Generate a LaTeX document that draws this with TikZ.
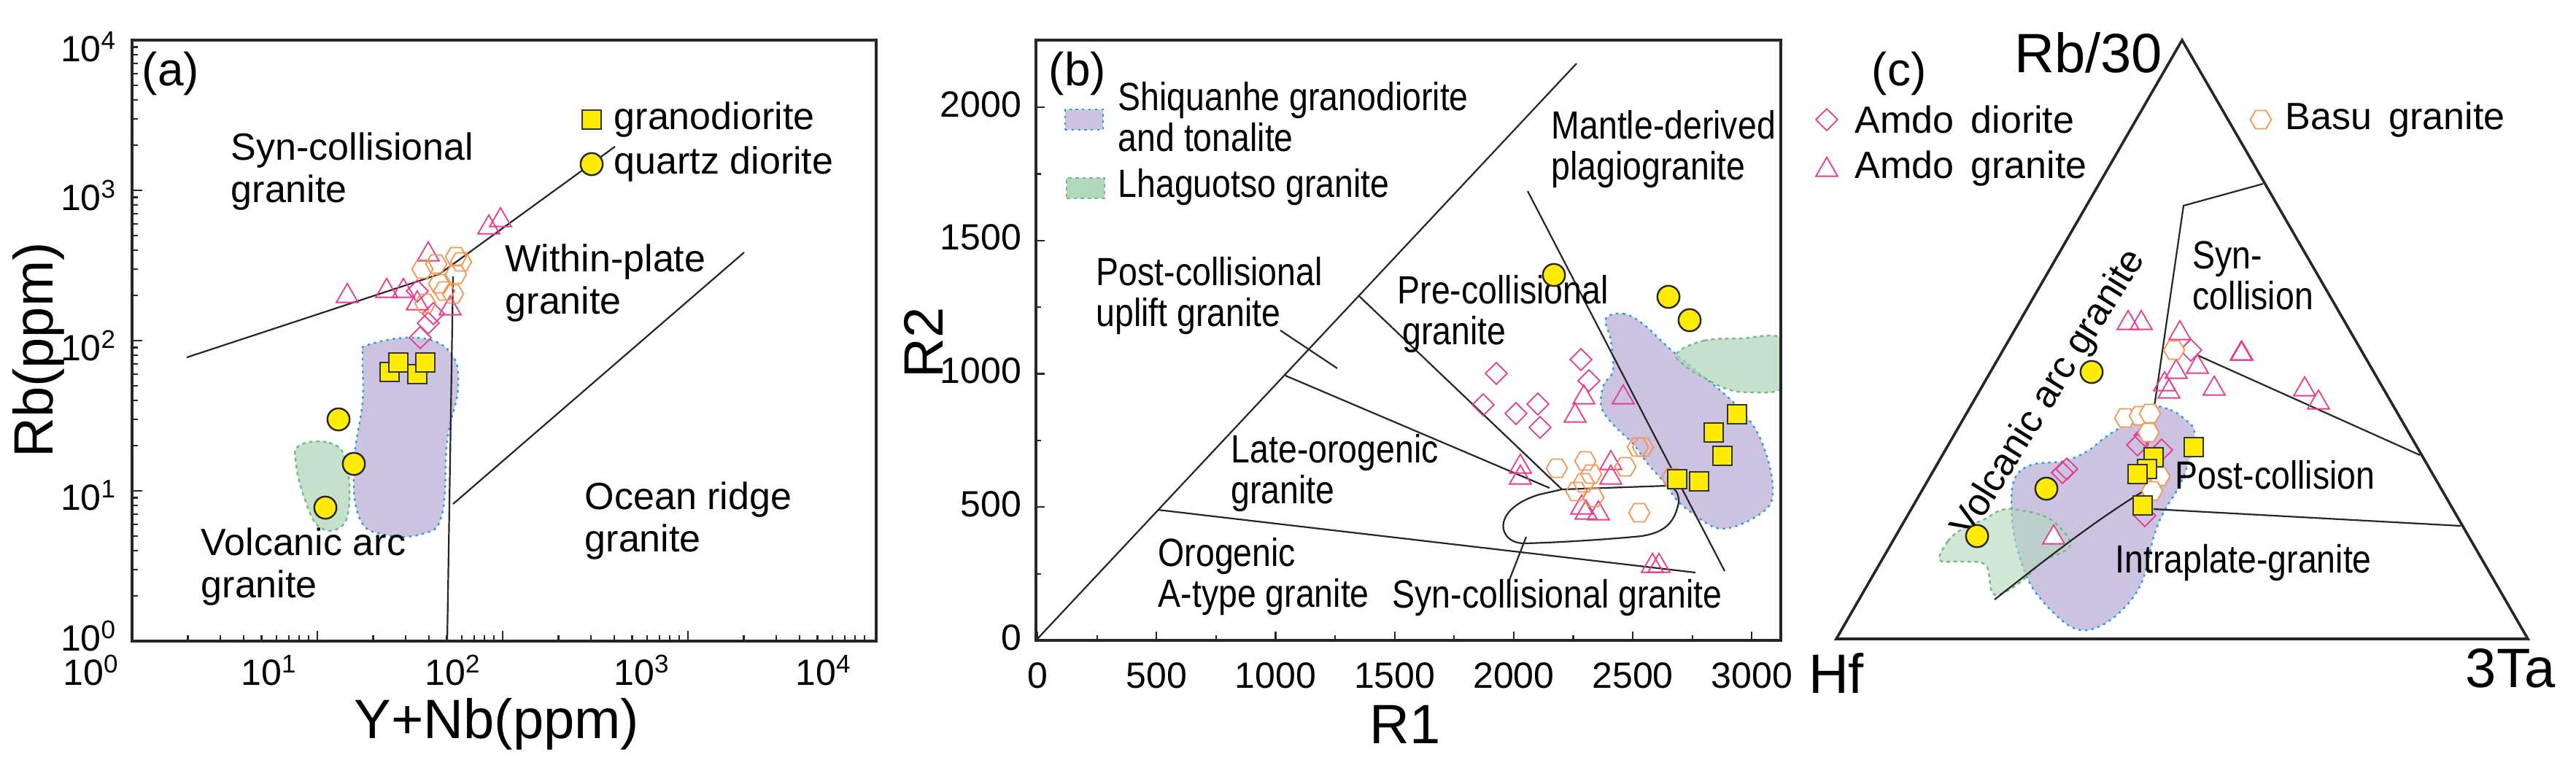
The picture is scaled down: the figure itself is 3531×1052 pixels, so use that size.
\documentclass[tikz,border=0pt]{standalone}
\usepackage{fontspec}
\setmainfont{Liberation Sans}
\usetikzlibrary{shapes.geometric}
\definecolor{pur}{RGB}{203,195,224}
\definecolor{grn}{RGB}{178,216,188}
\definecolor{blu}{RGB}{30,160,225}
\definecolor{gbd}{RGB}{120,185,140}
\definecolor{pink}{RGB}{230,60,145}
\definecolor{orng}{RGB}{243,150,80}
\definecolor{yel}{RGB}{255,236,0}
\tikzset{
 lbl/.style={font=\fontsize{13}{14.5}\selectfont, inner sep=0pt, anchor=west},
 nlbl/.style={font=\fontsize{13.5}{14}\selectfont, inner sep=0pt, anchor=west, xscale=0.86},
 tick/.style={font=\fontsize{12.5}{13}\selectfont, inner sep=1pt},
 axl/.style={font=\fontsize{19}{20}\selectfont, inner sep=0pt},
 bnd/.style={line width=0.55pt, black!85},
 frm/.style={line width=0.9pt, black!85},
 pfield/.style={fill=pur, draw=blu, line width=0.6pt, dash pattern=on 0.8pt off 1.4pt},
 gfield/.style={fill=grn, fill opacity=0.75, draw=gbd, line width=0.6pt, dash pattern=on 1.2pt off 1.2pt},
 sqm/.style={rectangle, draw=black!80, line width=0.6pt, fill=yel, minimum size=6.6pt, inner sep=0pt},
 cim/.style={circle, draw=black!85, line width=0.6pt, fill=yel, minimum size=7.6pt, inner sep=0pt},
 trm/.style={regular polygon, regular polygon sides=3, draw=pink, line width=0.45pt, minimum size=8.6pt, inner sep=0pt},
 dim/.style={diamond, draw=pink, line width=0.45pt, minimum size=7.6pt, inner sep=0pt, aspect=1},
 hxm/.style={regular polygon, regular polygon sides=6, draw=orng, line width=0.45pt, minimum size=7.2pt, inner sep=0pt},
}
\begin{document}
\begin{tikzpicture}[x=0.25pt,y=-0.25pt]
\useasboundingbox[fill=white] (0,0) rectangle (3531,1052);
% ================= Panel (a) =================
\draw[pfield] plot[smooth cycle, tension=0.7] coordinates {(504,473) (572,463) (617,483) (628,530) (613,604) (606,705) (579,732) (527,733) (493,711) (485,638) (497,550) (497,490)};
\draw[gfield] plot[smooth cycle, tension=0.7] coordinates {(410,611) (451,607) (474,631) (478,698) (463,725) (436,721) (418,685) (406,638)};
\coordinate (a1) at (256,490); \coordinate (a2) at (602,376); \coordinate (a3) at (843,201);
\coordinate (a4) at (613,879); \coordinate (a5) at (621,379);
\coordinate (a6) at (621,691); \coordinate (a7) at (1020,346);
\draw[bnd] (a1) -- (a2) -- (a3);
\draw[bnd] (a4) -- (a5);
\draw[bnd] (a6) -- (a7);
\draw[frm] (181,55) rectangle (1201,879);
\foreach \d in {0,1,2,3} {
  \draw[bnd] ({181+254*\d},879) -- ({181+254*\d},865);
  \draw[bnd] (181,{879-206*\d}) -- (195,{879-206*\d});
  \foreach \m in {2,...,9} {
    \draw[bnd] ({181+254*(\d+log10(\m))},879) -- ({181+254*(\d+log10(\m))},871);
    \draw[bnd] (181,{879-206*(\d+log10(\m))}) -- (189,{879-206*(\d+log10(\m))});
  }
}
\node[tick] (ax0) at (125,919) {10\textsuperscript{0}};
\node[tick] (ax1) at (369,919) {10\textsuperscript{1}};
\node[tick] (ax2) at (621,919) {10\textsuperscript{2}};
\node[tick] (ax3) at (880,919) {10\textsuperscript{3}};
\node[tick] (ax4) at (1129,919) {10\textsuperscript{4}};
\node[tick,anchor=east] (ay4) at (165,64) {10\textsuperscript{4}};
\node[tick,anchor=east] (ay3) at (165,268) {10\textsuperscript{3}};
\node[tick,anchor=east] (ay2) at (165,474) {10\textsuperscript{2}};
\node[tick,anchor=east] (ay1) at (165,679) {10\textsuperscript{1}};
\node[tick,anchor=east] (ay0) at (165,872) {10\textsuperscript{0}};
\node[axl,rotate=90] (ayl) at (53,480) {Rb(ppm)};
\node[axl] (axl) at (681,993) {Y+Nb(ppm)};
\node[lbl,font=\fontsize{16}{17}\selectfont] (pa) at (194,101) {(a)};
\node[sqm] (lsq) at (811,164) {};
\node[lbl] (lsqt) at (841,164) {granodiorite};
\node[cim] (lci) at (811,225) {};
\node[lbl] (lcit) at (841,225) {quartz diorite};
\node[lbl,align=left] (la1) at (316,235) {Syn-collisional\\granite};
\node[lbl,align=left] (la2) at (692,388) {Within-plate\\granite};
\node[lbl,align=left] (la3) at (801,714) {Ocean ridge\\granite};
\node[lbl,align=left] (la4) at (275,777) {Volcanic arc\\granite};
\foreach \x/\y [count=\i] in {476/406,530/399,553/399,587/349,670/312,686/302,572/416,617/423} \node[trm] (atr\i) at (\x,\y) {};
\foreach \x/\y [count=\i] in {576/463,587/443,572/399,594/430} \node[dim] (adi\i) at (\x,\y) {};
\foreach \x/\y [count=\i] in {579/369,598/362,625/352,632/359,625/376,609/399,621/403,583/416,602/389} \node[hxm] (ahx\i) at (\x,\y) {};
\foreach \x/\y [count=\i] in {534/510,546/497,572/513,583/497} \node[sqm] (asq\i) at (\x,\y) {};
\foreach \x/\y [count=\i] in {464/575,485/636,446/696} \node[cim] (aci\i) at (\x,\y) {};
% ================= Panel (b) =================
\draw[pfield] plot[smooth cycle, tension=0.6] coordinates {(2201,437) (2225,430) (2252,444) (2292,481) (2353,531) (2379,555) (2406,588) (2423,629) (2430,669) (2423,696) (2386,719) (2353,724) (2319,703) (2299,686) (2279,659) (2258,635) (2238,608) (2211,582) (2195,558) (2198,528) (2211,508) (2208,467)};
\begin{scope}
\clip (1420,55) rectangle (2441,879);
\draw[gfield] plot[smooth cycle, tension=0.7] coordinates {(2299,484) (2336,467) (2386,464) (2443,463) (2470,500) (2442,533) (2403,538) (2369,534) (2336,518) (2309,501)};
\end{scope}
\coordinate (b0) at (1420,878); \coordinate (b1) at (2161,87);
\coordinate (b2) at (1587,699); \coordinate (b3) at (2324,785);
\coordinate (b4) at (1762,515); \coordinate (b5) at (2124,669);
\coordinate (b6) at (1863,406); \coordinate (b7) at (2141,671);
\coordinate (b8) at (2094,262); \coordinate (b9) at (2364,783);
\coordinate (b10) at (1755,453); \coordinate (b11) at (1833,505);
\coordinate (b12) at (2092,736); \coordinate (b13) at (2067,800);
\draw[bnd] (b0) -- (b1);
\draw[bnd] (b2) -- (b3);
\draw[bnd] (b4) -- (b5);
\draw[bnd] (b6) -- (b7);
\draw[bnd] (b8) -- (b9);
\draw[bnd] (b10) -- (b11);
\draw[bnd] (b12) -- (b13);
\draw[bnd] (b7) -- (2285,666) .. controls (2300,668) and (2304,684) .. (2299,697) .. controls (2292,722) and (2275,731) .. (2250,735) .. controls (2200,740) and (2130,744) .. (2090,745) .. controls (2066,745) and (2058,728) .. (2061,716) .. controls (2066,696) and (2090,684) .. (2110,678) -- cycle;
\draw[frm] (1420,55) rectangle (2441,878);
\foreach \v in {0,250,...,3000} {
  \draw[bnd] ({1422+0.3264*\v},878) -- ({1422+0.3264*\v},871);
}
\foreach \v in {0,500,...,3000} {
  \draw[bnd] ({1422+0.3264*\v},878) -- ({1422+0.3264*\v},866);
}
\foreach \v in {0,250,...,2000} {
  \draw[bnd] (1420,{878-0.3655*\v}) -- (1427,{878-0.3655*\v});
}
\foreach \v in {0,500,...,2000} {
  \draw[bnd] (1420,{878-0.3655*\v}) -- (1432,{878-0.3655*\v});
}
\foreach \v [count=\i] in {0,500,1000,1500,2000,2500,3000} \node[tick] (bx\i) at ({1422+0.3264*\v},926) {\v};
\foreach \v [count=\i] in {0,500,1000,1500,2000} \node[tick,anchor=east] (by\i) at (1405,{874-0.3655*\v}) {\v};
\node[axl] (bxl) at (1926,993) {R1};
\node[axl,rotate=90] (byl) at (1266,470) {R2};
\node[lbl,font=\fontsize{16}{17}\selectfont] (pb) at (1437,101) {(b)};
\node[pfield, rectangle, minimum width=13pt, minimum height=7pt, inner sep=0pt] (lgp) at (1486,164) {};
\node[gfield, fill opacity=1, rectangle, minimum width=13pt, minimum height=7pt, inner sep=0pt] (lgg) at (1488,258) {};
\node[nlbl,align=left] (lgpt) at (1532,160) {Shiquanhe granodiorite\\and tonalite};
\node[nlbl] (lggt) at (1532,257) {Lhaguotso granite};
\node[nlbl,align=left] (lb1) at (1502,406) {Post-collisional\\uplift granite};
\node[nlbl,align=left] (lb2) at (1915,431) {Pre-collisional\\\hspace*{2pt}granite};
\node[nlbl,align=left] (lb3) at (2126,205) {Mantle-derived\\plagiogranite};
\node[nlbl,align=left] (lb4) at (1687,649) {Late-orogenic\\granite};
\node[nlbl,align=left] (lb5) at (1587,791) {Orogenic\\A-type granite};
\node[nlbl] (lb6) at (1908,820) {Syn-collisional granite};
\foreach \x/\y [count=\i] in {2051/512,2033/555,2078/567,2108/554,2111/586,2167/493,2178/522} \node[dim] (bdi\i) at (\x,\y) {};
\foreach \x/\y [count=\i] in {2225/545,2171/545,2159/570,2084/640,2084/655,2208/635,2208/655,2174/703,2191/704,2168/696,2265/776,2274/776} \node[trm] (btr\i) at (\x,\y) {};
\foreach \x/\y [count=\i] in {2134/642,2173/632,2181/650,2171/662,2161/674,2184/682,2228/640,2245/613,2252/613,2247/703,2292/655} \node[hxm] (bhx\i) at (\x,\y) {};
\foreach \x/\y [count=\i] in {2381/568,2349/593,2361/625,2299/657,2329/660} \node[sqm] (bsq\i) at (\x,\y) {};
\foreach \x/\y [count=\i] in {2130/377,2287/407,2316/439} \node[cim] (bci\i) at (\x,\y) {};
% ================= Panel (c) =================
\draw[pfield] plot[smooth cycle, tension=0.6] coordinates {(2944,557) (2975,562) (2995,575) (3008,592) (3000,633) (2987,667) (2967,700) (2953,733) (2935,800) (2905,840) (2870,862) (2840,860) (2805,830) (2780,795) (2762,740) (2757,690) (2762,655) (2785,637) (2830,632) (2862,618) (2885,600) (2915,580)};
\draw[gfield,fill opacity=0.6] plot[smooth cycle, tension=0.6] coordinates {(2659,768) (2670,742) (2690,725) (2720,712) (2750,698) (2800,707) (2827,727) (2837,750) (2800,770) (2767,800) (2733,815) (2722,775) (2690,770)};
\coordinate (cA) at (2991,55); \coordinate (cH) at (2517,876); \coordinate (cT) at (3465,876);
\draw[frm, line join=miter] (cA) -- (cH) -- (cT) -- cycle;
\coordinate (c1) at (3102,252); \coordinate (c2) at (2993,282); \coordinate (c3) at (2953,557);
\coordinate (c4) at (3012,487); \coordinate (c5) at (3317,624);
\coordinate (c6) at (2952,698); \coordinate (c7) at (3373,721);
\coordinate (c8) at (2734,822); \coordinate (c9) at (2937,674);
\draw[bnd] (c1) -- (c2) -- (c3);
\draw[bnd] (c4) -- (c5);
\draw[bnd] (c6) -- (c7);
\draw[bnd] (c8) .. controls (2800,770) and (2870,715) .. (c9);
\node[axl,anchor=east] (cAl) at (2965,72) {Rb/30};
\node[axl] (cHl) at (2517,923) {Hf};
\node[axl] (cTl) at (3441,916) {3Ta};
\node[lbl,font=\fontsize{16}{17}\selectfont] (pc) at (2565,101) {(c)};
\node[dim] (lcd) at (2504,164) {};
\node[trm] (lct) at (2504,233) {};
\node[hxm] (lch) at (3099,164) {};
\node[lbl] (lcdt) at (2542,164) {Amdo\, diorite};
\node[lbl] (lctt) at (2542,231) {Amdo\, granite};
\node[lbl] (lcht) at (3132,164) {Basu\, granite};
\node[nlbl,align=left] (lc1) at (3005,378) {Syn-\\collision};
\node[nlbl] (lc2) at (2981,651) {Post-collision};
\node[nlbl] (lc3) at (2899,772) {Intraplate-granite};
\node[lbl,anchor=center,rotate=58] (lc4) at (2809,540) {Volcanic arc granite};
\foreach \x/\y [count=\i] in {2917/443,2935/443,2988/457,3073/485,2983/510,3012/503,3035/533,2973/537,2967/527,3159/534,3178/552,3072/485} \node[trm] (ctr\i) at (\x,\y) {};
\node[trm,fill=white] (ctrw) at (2815,737) {};
\foreach \x/\y [count=\i] in {3003/480,2833/643,2827/648,2930/610,2940/597,2963/617,2940/707} \node[dim] (cdi\i) at (\x,\y) {};
\foreach \x/\y [count=\i] in {2913/573,2933/570,2947/567,2945/593,2960/653,2950/673,2980/480} \node[hxm,fill=white] (chx\i) at (\x,\y) {};
\foreach \x/\y [count=\i] in {3007/613,2952/627,2943/643,2930/650,2937/693} \node[sqm] (csq\i) at (\x,\y) {};
\foreach \x/\y [count=\i] in {2867/510,2805/670,2710/735} \node[cim] (cci\i) at (\x,\y) {};
\end{tikzpicture}
\end{document}
